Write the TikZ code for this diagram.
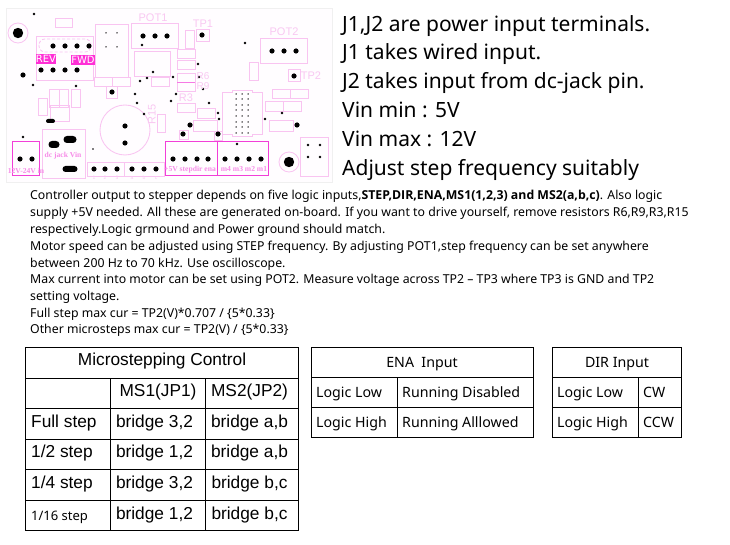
\documentclass[tikz,border=0pt]{standalone}
\usepackage{fontspec}
\setmainfont{Noto Sans}
\newfontfamily\opens{Open Sans}
\newfontfamily\arialf{Liberation Sans}
\newfontfamily\serf{Liberation Serif}
\newfontfamily\djv{DejaVu Sans}
\definecolor{pl}{HTML}{F9C4F1}
\definecolor{pt}{HTML}{F9C8F2}
\definecolor{pm}{HTML}{F23FD8}
\definecolor{pf}{HTML}{FF2FD6}
\definecolor{bd}{HTML}{F0F0F0}
\definecolor{bg}{HTML}{FFFDFF}
\tikzset{
 x=1pt,y=-1pt,
 pcbline/.style={draw=pl,line width=.85pt},
 pcbstrong/.style={draw=pm,line width=1pt},
 tline/.style={draw=black,line width=.9pt},
 big/.style={anchor=base west,inner sep=0pt,font=\fontsize{21}{21}\selectfont},
 para/.style={anchor=base west,inner sep=0pt,font=\fontsize{12.3}{12.3}\selectfont},
 arialcell/.style={anchor=base,inner sep=0pt,font=\arialf\fontsize{17.3}{17.3}\selectfont},
 notocell/.style={anchor=base,inner sep=0pt,font=\fontsize{14.2}{14.2}\selectfont},
 notoleft/.style={anchor=base west,inner sep=0pt,font=\fontsize{14.2}{14.2}\selectfont},
 silk/.style={text=pt,inner sep=0pt,font=\arialf\fontsize{11}{11}\selectfont},
 silksmall/.style={text=pt,inner sep=0pt,font=\arialf\fontsize{10}{10}\selectfont},
 silkser/.style={text=pm!60,inner sep=0pt,font=\serf\bfseries\fontsize{7.6}{7.6}\selectfont},
 tag/.style={fill=pf,text=white,inner sep=0pt,font=\djv\fontsize{10}{10}\selectfont},
}
\begin{document}
\begin{tikzpicture}
\useasboundingbox (0,0) rectangle (730,545);
\fill[white] (0,0) rectangle (730,545);
% board
\draw[draw=bd,fill=bg,line width=.8pt] (6,8) rectangle (332,182);
% light outlines
\foreach \a/\b/\c/\d in {
 55/18/72/27, 95/24/128/77, 131/23/178/48, 134/51/170/76, 151/77/169/86,
 94/77/112/86, 112/77/130/86, 36/36/93/80, 106/86/117/98,
 196/29/209/41, 185/30/194/48, 177/49/195/58, 177/60/195/69, 177/73/195/82, 177/82/195/91,
 260/38/307/63, 249/62/258/80, 288/69/300/81,
 49/89/59/107, 59/89/68/107, 71/89/80/107, 38/98/47/115, 50/105/69/121,
 42/129/85/178, 87/162/124/176, 124/162/164/176, 157/114/165/132,
 177/103/195/112, 197/108/215/118, 193/120/217/131, 179/130/188/139, 214/131/222/140,
 265/101/283/111, 283/101/301/111, 269/120/293/131, 272/89/290/98, 290/89/308/98,
 300/137/328/176}
 {\draw[pcbline] (\a,\b) rectangle (\c,\d);}
\draw[pcbline,densely dashed,rounded corners=6pt] (39,39) rectangle (91,52);
\draw[draw=pm!70,line width=.8pt] (177,82) -- (195,82);
% IC outline
\draw[pcbline] (222,92) -- (232,92) -- (232,90) -- (252,90) -- (252,92) -- (262,92) -- (262,134) -- (252,134) -- (252,136) -- (232,136) -- (232,134) -- (222,134) -- cycle;
% circles
\draw[pcbline] (125,130) circle[radius=25];
\draw[pcbline] (18,33) circle[radius=10];
\draw[pcbline] (289,162) circle[radius=10];
\fill[black] (18,33) circle[radius=5.2];
\fill[black] (289,162) circle[radius=5.2];
% strong outlines
\foreach \a/\b/\c/\d in {12/142/39/176, 165/142/217/176, 217/142/268/176}
 {\draw[pcbstrong] (\a,\b) rectangle (\c,\d);}
% pads
\foreach \a/\b in {53/46,65/46,77/46,89/46,41/70,53/70,65/70,77/70,23/75,
 143/36,155/36,167/36,202/35,272/51,284/51,296/51,294/76,112/92,20/159,32/159,
 94/169,105/169,117/169,132/169,144/169,156/169,125/126,125/143,
 173/159,185/159,197/159,208/159,225/159,237/159,249/159,261/159,190/125,183/134,218/134,297/125}
 {\fill[black] (\a,\b) circle[radius=2.6];}
% vias
\foreach \a/\b in {34/14,142/45,33/85,76/86,153/72,147/78,140/81,135/94,137/103,144/114,
 245/43,198/64,173/77,199/77,203/89,176/94,171/101,209/103,218/113,219/119,265/119,282/113,237/144,23/137,
 308/145,320/145,308/157,320/157}
 {\fill[black] (\a,\b) circle[radius=1.4];}
\fill[black] (93,149) circle[radius=.9];
\foreach \a in {236,242,248}
 \foreach \b in {94,99,105,110,116,122,127,133}
  {\fill[black] (\a,\b) circle[radius=.75];}
\foreach \a/\b in {106/33,117/33,106/47,117/47}
 {\fill[black] (\a,\b) circle[radius=.75];}
% oblong pads
\fill[black,rounded corners=2pt] (46,119) rectangle (55,123);
\fill[black,rounded corners=3.4pt] (48.5,141) rectangle (59.5,148);
\fill[black,rounded corners=3.4pt] (63.5,136) rectangle (76.5,143);
\fill[black,rounded corners=3pt] (62.5,166) rectangle (77.5,172);
% board labels
\node[silk] (lpot1) at (153,18) {POT1};
\node[silk] (ltp1) at (203,24) {TP1};
\node[silk] (lpot2) at (284,32) {POT2};
\node[silk] (ltp2) at (311,76) {TP2};
\node[silksmall] (lr6) at (203,76.5) {R6};
\node[silksmall] (lr9) at (203,86.5) {R9};
\node[silk] (lr3) at (186,98) {R3};
\node[silk,rotate=90] (lr15) at (152,114) {R15};
\node[tag,minimum width=20pt,minimum height=10pt] (lrev) at (46,59) {REV};
\node[tag,minimum width=20pt,minimum height=10pt] (lfwd) at (83,60) {FWD};
\node[silkser] (ljack) at (63,156) {dc jack Vin};
\node[silkser] (lin) at (26,171) {12V-24V in};
\node[silkser] (lsd) at (190,169.5) {+5V stepdir ena};
\node[silkser] (lms) at (244,169.5) {m4 m3 m2 m1};
\foreach \n/\a/\t in {p1/94/1,p2/105/2,p3/117/3,pa/132/a,pb/144/b,pc/156/c}
 {\node[text=pt,inner sep=0pt,font=\arialf\fontsize{5}{5}\selectfont] (\n) at (\a,178) {\t};}
% right text
\node[big] (r1) at (342,32) {J1,J2 are power input terminals.};
\node[big] (r2) at (342,60) {J1 takes wired input.};
\node[big] (r3) at (342,89) {J2 takes input from dc-jack pin.};
\node[big] (r4) at (342,118) {Vin min : 5V};
\node[big] (r5) at (342,147) {Vin max : 12V};
\node[big] (r6) at (342,176) {Adjust step frequency suitably};
% paragraph
\node[para] (t1) at (30,200) {Controller output to stepper depends on five logic inputs,{\opens\bfseries STEP,DIR,ENA,MS1(1,2,3) and MS2(a,b,c)}. Also logic};
\node[para] (t2) at (30,216.7) {supply +5V needed. All these are generated on-board. If you want to drive yourself, remove resistors R6,R9,R3,R15};
\node[para] (t3) at (30,233.3) {respectively.Logic grmound and Power ground should match.};
\node[para] (t4) at (30,250.3) {Motor speed can be adjusted using STEP frequency. By adjusting POT1,step frequency can be set anywhere};
\node[para] (t5) at (30,267) {between 200 Hz to 70 kHz. Use oscilloscope.};
\node[para] (t6) at (30,283.7) {Max current into motor can be set using POT2. Measure voltage across TP2 -- TP3 where TP3 is GND and TP2};
\node[para] (t7) at (30,300.3) {setting voltage.};
\node[para] (t8) at (30,317) {Full step max cur = TP2(V)*0.707 / \{5*0.33\}};
\node[para] (t9) at (30,333.7) {Other microsteps max cur = TP2(V) / \{5*0.33\}};
% table 1
\draw[tline] (25,347) rectangle (298.5,530.5);
\foreach \b in {378,408,439,469,500} {\draw[tline] (25,\b) -- (298.5,\b);}
\draw[tline] (110,378) -- (110,530.5);
\draw[tline] (205,378) -- (205,530.5);
\node[arialcell] (a0) at (162,365) {Microstepping Control};
\node[arialcell] (a1) at (158,396) {MS1(JP1)};
\node[arialcell] (a2) at (249.5,396) {MS2(JP2)};
\node[arialcell,anchor=base west] (b0) at (31,427) {Full step};
\node[arialcell,anchor=base west] (b1) at (31,457) {1/2 step};
\node[arialcell,anchor=base west] (b2) at (31,488) {1/4 step};
\node[anchor=base west,inner sep=0pt,font=\fontsize{13}{13}\selectfont] (b3) at (31,520) {1/16 step};
\node[arialcell] (c0) at (154.5,427) {bridge 3,2};
\node[arialcell] (c1) at (154.5,457) {bridge 1,2};
\node[arialcell] (c2) at (154.5,488) {bridge 3,2};
\node[arialcell] (c3) at (154.5,519) {bridge 1,2};
\node[arialcell] (d0) at (249.5,427) {bridge a,b};
\node[arialcell] (d1) at (249.5,457) {bridge a,b};
\node[arialcell] (d2) at (249.5,488) {bridge b,c};
\node[arialcell] (d3) at (249.5,519) {bridge b,c};
% table 2
\draw[tline] (311,347) rectangle (533,437);
\draw[tline] (311,377) -- (533,377);
\draw[tline] (311,407) -- (533,407);
\draw[tline] (397,377) -- (397,437);
\node[notocell] (e0) at (422,367) {ENA\ \ Input};
\node[notoleft] (e1) at (316,397) {Logic Low};
\node[notoleft] (e2) at (316,427) {Logic High};
\node[notoleft] (e3) at (402,397) {Running Disabled};
\node[notoleft] (e4) at (402,427) {Running Alllowed};
% table 3
\draw[tline] (552,347) rectangle (681.5,437);
\draw[tline] (552,377) -- (681.5,377);
\draw[tline] (552,407) -- (681.5,407);
\draw[tline] (638,377) -- (638,437);
\node[notocell] (f0) at (617,367) {DIR Input};
\node[notoleft] (f1) at (557,397) {Logic Low};
\node[notoleft] (f2) at (557,427) {Logic High};
\node[notoleft] (f3) at (643,397) {CW};
\node[notoleft] (f4) at (643,427) {CCW};
\end{tikzpicture}
\end{document}
